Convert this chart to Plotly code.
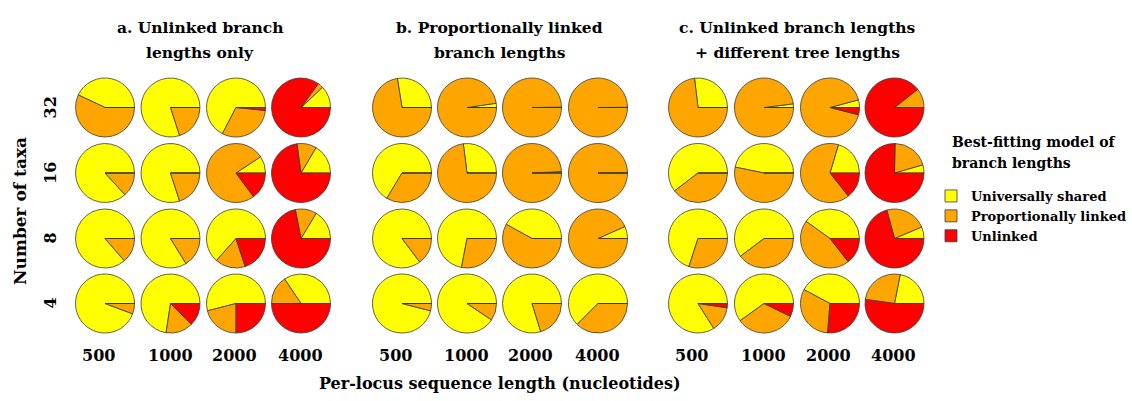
import plotly.graph_objects as go

# Simulation settings
seq_lengths = ["500", "1000", "2000", "4000"]
taxa = ["32", "16", "8", "4"]  # rows, top to bottom
models = ["Universally shared", "Proportionally linked", "Unlinked"]
model_colors = ["#FFFF00", "#FFA500", "#FF0000"]

panel_titles = [
    ["a. Unlinked branch", "lengths only"],
    ["b. Proportionally linked", "branch lengths"],
    ["c. Unlinked branch lengths", "+ different tree lengths"],
]
legend_title = ["Best-fitting model of", "branch lengths"]

# Proportion of replicates for which each model fits best
# rows: taxa 32, 16, 8, 4 ; columns: 500, 1000, 2000, 4000 nucleotides
a_shared = [[0.43, 0.80, 0.674, 0.12],
            [0.868, 0.80, 0.093, 0.165],
            [0.864, 0.838, 0.635, 0.164],
            [0.943, 0.726, 0.54, 0.344]]
a_linked = [[0.57, 0.20, 0.31, 0.03],
            [0.132, 0.20, 0.758, 0.107],
            [0.136, 0.162, 0.166, 0.117],
            [0.057, 0.149, 0.21, 0.156]]
a_unlinked = [[0.0, 0.0, 0.016, 0.85],
              [0.0, 0.0, 0.149, 0.728],
              [0.0, 0.0, 0.20, 0.719],
              [0.0, 0.125, 0.25, 0.50]]

b_shared = [[0.275, 0.023, 0.002, 0.001],
            [0.664, 0.27, 0.008, 0.001],
            [0.853, 0.72, 0.42, 0.067],
            [0.96, 0.906, 0.798, 0.625]]
b_linked = [[0.725, 0.977, 0.998, 0.999],
            [0.336, 0.73, 0.992, 0.999],
            [0.147, 0.28, 0.58, 0.933],
            [0.04, 0.094, 0.202, 0.375]]
b_unlinked = [[0.0, 0.0, 0.0, 0.0],
              [0.0, 0.0, 0.0, 0.0],
              [0.0, 0.0, 0.0, 0.0],
              [0.0, 0.0, 0.0, 0.0]]

c_shared = [[0.269, 0.02, 0.042, 0.0],
            [0.604, 0.468, 0.204, 0.045],
            [0.70, 0.603, 0.401, 0.064],
            [0.84, 0.599, 0.422, 0.219]]
c_linked = [[0.731, 0.98, 0.918, 0.106],
            [0.396, 0.532, 0.653, 0.202],
            [0.30, 0.397, 0.455, 0.228],
            [0.137, 0.329, 0.315, 0.259]]
c_unlinked = [[0.0, 0.0, 0.04, 0.894],
              [0.0, 0.0, 0.143, 0.753],
              [0.0, 0.0, 0.144, 0.708],
              [0.023, 0.072, 0.263, 0.522]]

panels = [
    (a_shared, a_linked, a_unlinked),
    (b_shared, b_linked, b_unlinked),
    (c_shared, c_linked, c_unlinked),
]

# Layout geometry (pixels)
W, H = 1132, 401
col_x = [[105, 170.5, 236, 301],
         [402, 467, 532, 598],
         [698, 764, 830, 894.5]]
label_shift = [-6.5, -0.5, -1.5, -1]
row_y = [107.5, 173, 238.5, 303.5]
R = 29.5
title_x = [200, 500, 797]
FONT = "DejaVu Serif"

fig = go.Figure()

for p, (ys, os, rs) in enumerate(panels):
    for i in range(4):
        for j in range(4):
            cx, cy = col_x[p][j], row_y[i]
            vals = [ys[i][j], os[i][j], rs[i][j]]
            # slices run counter-clockwise from 3 o'clock; plotly places the
            # first slice clockwise of `rotation`, so shift by its own angle
            rot = 90 - 360 * vals[0] / sum(vals)
            fig.add_trace(go.Pie(
                labels=models,
                values=vals,
                marker=dict(colors=model_colors, line=dict(color="#3a3a3a", width=0.8)),
                sort=False,
                direction="counterclockwise",
                rotation=rot,
                textinfo="none",
                hoverinfo="label+percent",
                showlegend=True,
                domain=dict(x=[(cx - R) / W, (cx + R) / W],
                            y=[1 - (cy + R) / H, 1 - (cy - R) / H]),
            ))

annotations = []


def px_text(x, y, text, size, angle=0, anchor="center"):
    annotations.append(dict(
        x=x / W, y=1 - y / H, xref="paper", yref="paper",
        text=text, showarrow=False, textangle=angle,
        xanchor=anchor, yanchor="middle", align=anchor,
        font=dict(family=FONT, size=size, color="black"),
    ))


for p in range(3):
    px_text(title_x[p], 27, "<b>" + panel_titles[p][0] + "</b>", 15.5)
    px_text(title_x[p], 52, "<b>" + panel_titles[p][1] + "</b>", 15.5)
    for j in range(4):
        px_text(col_x[p][j] + label_shift[j], 355, "<b>" + seq_lengths[j] + "</b>", 16)

for i in range(4):
    px_text(50, row_y[i], "<b>" + taxa[i] + "</b>", 16, angle=-90)

px_text(20, 211, "<b>Number of taxa</b>", 17, angle=-90)
px_text(500, 383, "<b>Per-locus sequence length (nucleotides)</b>", 16)
px_text(950, 142, "<b>" + legend_title[0] + "</b>", 14, anchor="left")
px_text(950, 163, "<b>" + legend_title[1] + "</b>", 14, anchor="left")

fig.update_layout(
    width=W, height=H,
    margin=dict(l=0, r=0, t=0, b=0, autoexpand=False),
    paper_bgcolor="white",
    plot_bgcolor="white",
    annotations=annotations,
    legend=dict(
        xref="container", yref="container",
        x=931 / W, y=1 - 181 / H, xanchor="left", yanchor="top",
        font=dict(family=FONT, size=13, color="black", weight="bold"),
        itemwidth=30,
        tracegroupgap=0,
    ),
)

fig.write_html("out.html")
